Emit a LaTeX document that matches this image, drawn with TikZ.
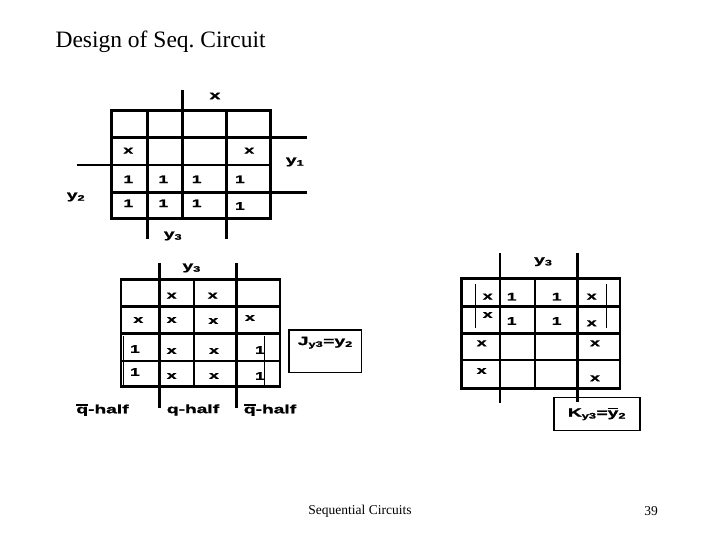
\documentclass[tikz,border=0pt]{standalone}
\usepackage{fontspec}
\setmainfont{Liberation Serif}
\newfontfamily\mapfont[FakeStretch=1.6, FakeBold=1.5]{Liberation Sans}
\usetikzlibrary{positioning}
\newcommand\topbar[1]{\setbox0\hbox{#1}\rlap{\rule[\dimexpr\ht0+1.2pt\relax]{\wd0}{1.4pt}}\box0}

\begin{document}
\begin{tikzpicture}[
  x=1pt, y=-1pt,
  every node/.style={font=\mapfont\bfseries\fontsize{11}{13}\selectfont},
  grid/.style={line width=2.6pt},
  loopline/.style={line width=0.8pt},
  boxed/.style={draw, line width=1.3pt, minimum width=#1, inner sep=0pt},
  varlabel/.style={font=\mapfont\bfseries\fontsize{12}{14}\selectfont}
]
\useasboundingbox (0,0) rectangle (720,540);
\node[font=\fontsize{23.5}{28}\selectfont, anchor=west] (title) at (52,42) {Design of Seq.\ Circuit};
\node[font=\fontsize{13.5}{16}\selectfont] (footer) at (360,511) {Sequential Circuits};
\node[font=\fontsize{13.5}{16}\selectfont] (page) at (651,511) {39};
% map of y3 next state
\draw[grid] (111.7,110.7) rectangle (270.7,218.3);
\foreach \cx in {147.3,182.7,226.7} \draw[grid] (\cx,110.7) -- (\cx,218.3);
\foreach \ry in {137.7,165,192.7} \draw[grid] (111.7,\ry) -- (270.7,\ry);
\draw[grid] (182.7,90) -- (182.7,110.7);
\draw[grid] (270.7,137.7) -- (306.7,137.7);
\draw[grid] (270.7,192.7) -- (306.7,192.7);
\draw[grid] (76.7,165) -- (111.7,165);
\draw[grid] (147.3,218.3) -- (147.3,239);
\draw[grid] (226.7,218.3) -- (226.7,239);
\node[varlabel] (topx) at (215,96) {x};
\node[varlabel] (topy1) at (295,162) {y\textsubscript{1}};
\node[varlabel] (topy2) at (76,197) {y\textsubscript{2}};
\node[varlabel] (topy3) at (173,236) {y\textsubscript{3}};
\foreach \px/\py/\t [count=\i] in {128.3/150.7/x, 249.3/150.7/x,
    128.3/179.3/1, 163.3/179.3/1, 196.7/179.3/1, 240/179.3/1,
    128.3/203.3/1, 163.3/203.3/1, 196.7/203.3/1, 240/206/1}
  \node (top\i) at (\px,\py) {\t};
% map for J
\draw[grid] (121,279.3) rectangle (280,386.7);
\foreach \cx in {159.3,194,236.7} \draw[grid] (\cx,279.3) -- (\cx,386.7);
\foreach \ry in {306.7,333.3,361} \draw[grid] (121,\ry) -- (280,\ry);
\foreach \cx in {159.3,236.7} {
  \draw[grid] (\cx,263) -- (\cx,279.3);
  \draw[grid] (\cx,386.7) -- (\cx,408);
}
\draw[loopline] (123.6,336) -- (123.6,385);
\draw[loopline] (264.3,336) -- (264.3,385);
\node[varlabel] (jy3) at (191.7,268) {y\textsubscript{3}};
\foreach \px/\py/\t [count=\i] in {171.7/295.7/x, 212.7/295.7/x,
    138.3/320/x, 171.7/320/x, 213.3/321/x, 250/318/x,
    135/349/1, 171.7/351/x, 214/351/x, 260/350/1,
    135/372/1, 171.7/376/x, 214/376/x, 260/376/1}
  \node (jmap\i) at (\px,\py) {\t};
\node[varlabel] (qbarl) at (102.5,410) {\topbar{q}-half};
\node[varlabel] (qmid) at (193,410) {q-half};
\node[varlabel] (qbarr) at (270,410) {\topbar{q}-half};
\node[boxed=72.7pt, minimum height=42.4pt, anchor=north west] (jbox) at (288.3,329.3) {};
\node[varlabel, below=4pt of jbox.north] (jtext) {J\textsubscript{y3}=y\textsubscript{2}};
% map for K
\draw[grid] (461.7,278.3) rectangle (620,388.3);
\foreach \cx in {500,535,577.3} \draw[grid] (\cx,278.3) -- (\cx,388.3);
\foreach \ry in {306.7,333.3,360} \draw[grid] (461.7,\ry) -- (620,\ry);
\draw[grid] (500,253.3) -- (500,278.3);
\draw[grid] (500,388.3) -- (500,403.3);
\draw[grid] (577.3,253.3) -- (577.3,278.3);
\draw[loopline] (475,284.3) -- (475,328.3);
\draw[loopline] (606,284.3) -- (606,328.3);
\node[varlabel] (ky3) at (543.3,261.7) {y\textsubscript{3}};
\foreach \px/\py/\t [count=\i] in {487.7/296.7/x, 511.7/296.7/1, 556.7/296.7/1, 591.7/296.7/x,
    487.7/315/x, 511.7/321/1, 556.7/321/1, 591.7/323.3/x,
    481.7/343.3/x, 595/343.3/x,
    481.7/371/x, 595/378.3/x}
  \node (kmap\i) at (\px,\py) {\t};
\node[boxed=86pt, minimum height=33.3pt, anchor=north west] (kbox) at (553.3,396.7) {};
\coordinate (kin) at (577.3,401.7);
\draw[grid] (577.3,388.3) -- (kin);
\node[varlabel] (ktext) at (kbox.center) {K\textsubscript{y3}=\topbar{y}\textsubscript{2}};
\end{tikzpicture}
\end{document}
